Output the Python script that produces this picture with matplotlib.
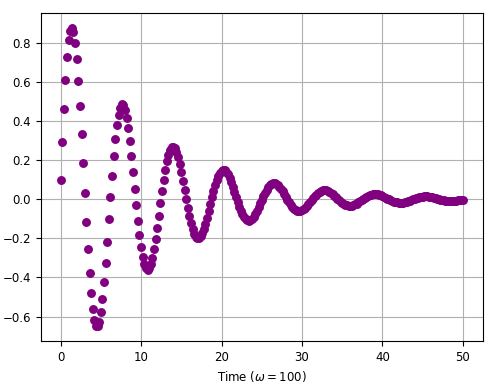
import numpy as np
import matplotlib
matplotlib.use("Agg")
import matplotlib.pyplot as plt

plt.rcParams["font.size"] = 8.5

# sample times (step 0.2)
time = np.linspace(0, 50, 251)

# values, one period per row block
signal = [
    0.100, 0.290, 0.462, 0.609, 0.727, 0.811, 0.861, 0.875, 0.853, 0.799,
    0.715, 0.606, 0.478, 0.335, 0.184, 0.031, -0.117, -0.255, -0.378, -0.481,
    -0.562, -0.617, -0.646, -0.649, -0.626, -0.579, -0.511, -0.425, -0.325, -0.217,
    -0.104,
    0.009, 0.118, 0.218, 0.305, 0.378, 0.432, 0.468, 0.484, 0.480, 0.457,
    0.417, 0.363, 0.295, 0.219, 0.137, 0.052, -0.031, -0.110, -0.182, -0.244,
    -0.294, -0.331, -0.353, -0.361, -0.354, -0.333, -0.300, -0.256, -0.204, -0.146,
    -0.084, -0.021,
    0.041, 0.098, 0.150, 0.194, 0.228, 0.252, 0.266, 0.268, 0.260, 0.242,
    0.214, 0.180, 0.140, 0.095, 0.049, 0.002, -0.043, -0.085, -0.122, -0.152,
    -0.176, -0.192, -0.199, -0.199, -0.190, -0.175, -0.153, -0.126, -0.094, -0.061,
    -0.026,
    0.009, 0.042, 0.072, 0.098, 0.119, 0.135, 0.145, 0.149, 0.147, 0.139,
    0.126, 0.108, 0.087, 0.063, 0.038, 0.012, -0.014, -0.038, -0.059, -0.078,
    -0.093, -0.103, -0.109, -0.111, -0.108, -0.101, -0.090, -0.076, -0.060, -0.042,
    -0.022, -0.003,
    0.016, 0.033, 0.048, 0.061, 0.072, 0.078, 0.082, 0.082, 0.079, 0.073,
    0.064, 0.053, 0.041, 0.027, 0.013, -0.002, -0.016, -0.028, -0.039, -0.048,
    -0.055, -0.059, -0.061, -0.061, -0.058, -0.053, -0.046, -0.037, -0.027, -0.017,
    -0.006,
    0.004, 0.014, 0.023, 0.031, 0.038, 0.042, 0.045, 0.046, 0.045, 0.042,
    0.038, 0.032, 0.026, 0.018, 0.010, 0.002, -0.006, -0.013, -0.019, -0.025,
    -0.029, -0.032, -0.034, -0.034, -0.033, -0.030, -0.027, -0.023, -0.017, -0.012,
    -0.006,
    0.000, 0.006, 0.011, 0.016, 0.019, 0.022, 0.024, 0.025, 0.025, 0.024,
    0.022, 0.019, 0.016, 0.012, 0.008, 0.003, -0.001, -0.005, -0.009, -0.013,
    -0.015, -0.017, -0.018, -0.019, -0.019, -0.018, -0.016, -0.014, -0.011, -0.008,
    -0.005, -0.001,
    0.002, 0.005, 0.008, 0.010, 0.012, 0.013, 0.014, 0.014, 0.014, 0.013,
    0.011, 0.010, 0.008, 0.005, 0.003, 0.000, -0.002, -0.004, -0.006, -0.008,
    -0.009, -0.010, -0.010, -0.010, -0.010, -0.009, -0.008, -0.007, -0.005, -0.003,
    -0.002,
]

fig = plt.figure(figsize=(5, 3.9), dpi=100)
ax = fig.add_axes([0.081, 0.1256, 0.885, 0.841])

ax.plot(time, signal, "o", color="purple", markersize=5.4)
ax.set_xlabel(r"Time ($\omega = 100$)")
ax.grid(True)

fig.savefig("out.png", dpi=100)
